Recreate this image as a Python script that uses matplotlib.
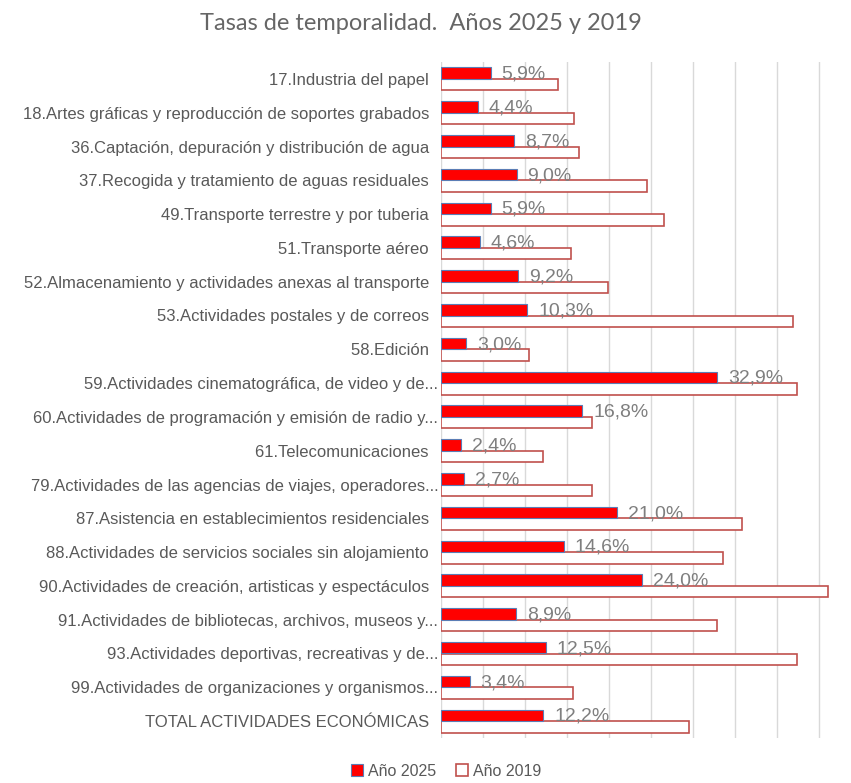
import matplotlib
matplotlib.use("Agg")
import matplotlib.pyplot as plt
import numpy as np

categories = [
    "17.Industria del papel  ",
    "18.Artes gráficas y reproducción de soportes grabados  ",
    "36.Captación, depuración y distribución de agua  ",
    "37.Recogida y tratamiento de aguas residuales  ",
    "49.Transporte terrestre y por tuberia  ",
    "51.Transporte aéreo  ",
    "52.Almacenamiento y actividades anexas al transporte  ",
    "53.Actividades postales y de correos  ",
    "58.Edición  ",
    "59.Actividades cinematográfica, de video y de...",
    "60.Actividades de programación y emisión de radio y...",
    "61.Telecomunicaciones  ",
    "79.Actividades de las agencias de viajes, operadores...",
    "87.Asistencia en establecimientos residenciales  ",
    "88.Actividades de servicios sociales sin alojamiento  ",
    "90.Actividades de creación, artisticas y espectáculos  ",
    "91.Actividades de bibliotecas, archivos, museos y...",
    "93.Actividades deportivas, recreativas y de...",
    "99.Actividades de organizaciones y organismos...",
    "TOTAL ACTIVIDADES ECONÓMICAS  ",
]
values_2025 = [5.9, 4.4, 8.7, 9.0, 5.9, 4.6, 9.2, 10.3, 3.0, 32.9,
               16.8, 2.4, 2.7, 21.0, 14.6, 24.0, 8.9, 12.5, 3.4, 12.2]
values_2019 = [13.9, 15.8, 16.5, 24.6, 26.6, 15.5, 19.9, 41.9, 10.5, 42.4,
               18.0, 12.2, 18.0, 35.9, 33.6, 46.1, 32.9, 42.4, 15.7, 29.5]
series_names = ["Año 2025", "Año 2019"]
title = "Tasas de temporalidad.  Años 2025 y 2019"

W, H = 851, 783
fig = plt.figure(figsize=(W / 100, H / 100), dpi=100)
ax = fig.add_axes([441 / W, (H - 738) / H, (W - 441) / W, 676 / H])

n = len(categories)
y = np.arange(n)
bh = 0.34

b1 = ax.barh(y - bh / 2, values_2025, height=bh, color="#FF0000",
             edgecolor="#5B7DB5", linewidth=0.8, label=series_names[0], zorder=3)
b2 = ax.barh(y + bh / 2, values_2019, height=bh, color="white",
             edgecolor="#C0504D", linewidth=1.2, label=series_names[1], zorder=2)

for yi, v in zip(y, values_2025):
    ax.annotate(f"{v:.1f}".replace(".", ",") + "%", xy=(v, yi - bh / 2),
                xytext=(11, -1), textcoords="offset pixels", va="center", ha="left",
                fontsize=14, color="#7F7F7F", family="Liberation Sans", zorder=4)

ax.set_xlim(0, (W - 441) / 8.393)
ax.set_ylim(n - 0.5, -0.5)
ax.set_xticks(np.arange(0, 50, 5))
ax.set_xticklabels([])
ax.tick_params(axis="x", length=0)
ax.set_yticks(y)
ax.set_yticklabels(categories, fontsize=12, color="#595959", family="Liberation Sans")
ax.tick_params(axis="y", length=0, pad=2)
ax.grid(axis="x", color="#D9D9D9", linewidth=1, zorder=0)
ax.set_axisbelow(True)
for s in ax.spines.values():
    s.set_visible(False)

fig.text(421 / W, 1 - 23 / H, title, ha="center", va="center", fontsize=17,
         color="#666666", family="Lato")

fig.legend(handles=[b1, b2], labels=series_names, loc="center",
           bbox_to_anchor=(446 / W, 12 / H), ncol=2, frameon=False,
           labelcolor="#595959", handlelength=0.8, handleheight=0.8,
           handletextpad=0.3, columnspacing=1.2,
           prop={"family": "Liberation Sans", "size": 11.5})

fig.savefig("out.png", dpi=100, facecolor="white")
